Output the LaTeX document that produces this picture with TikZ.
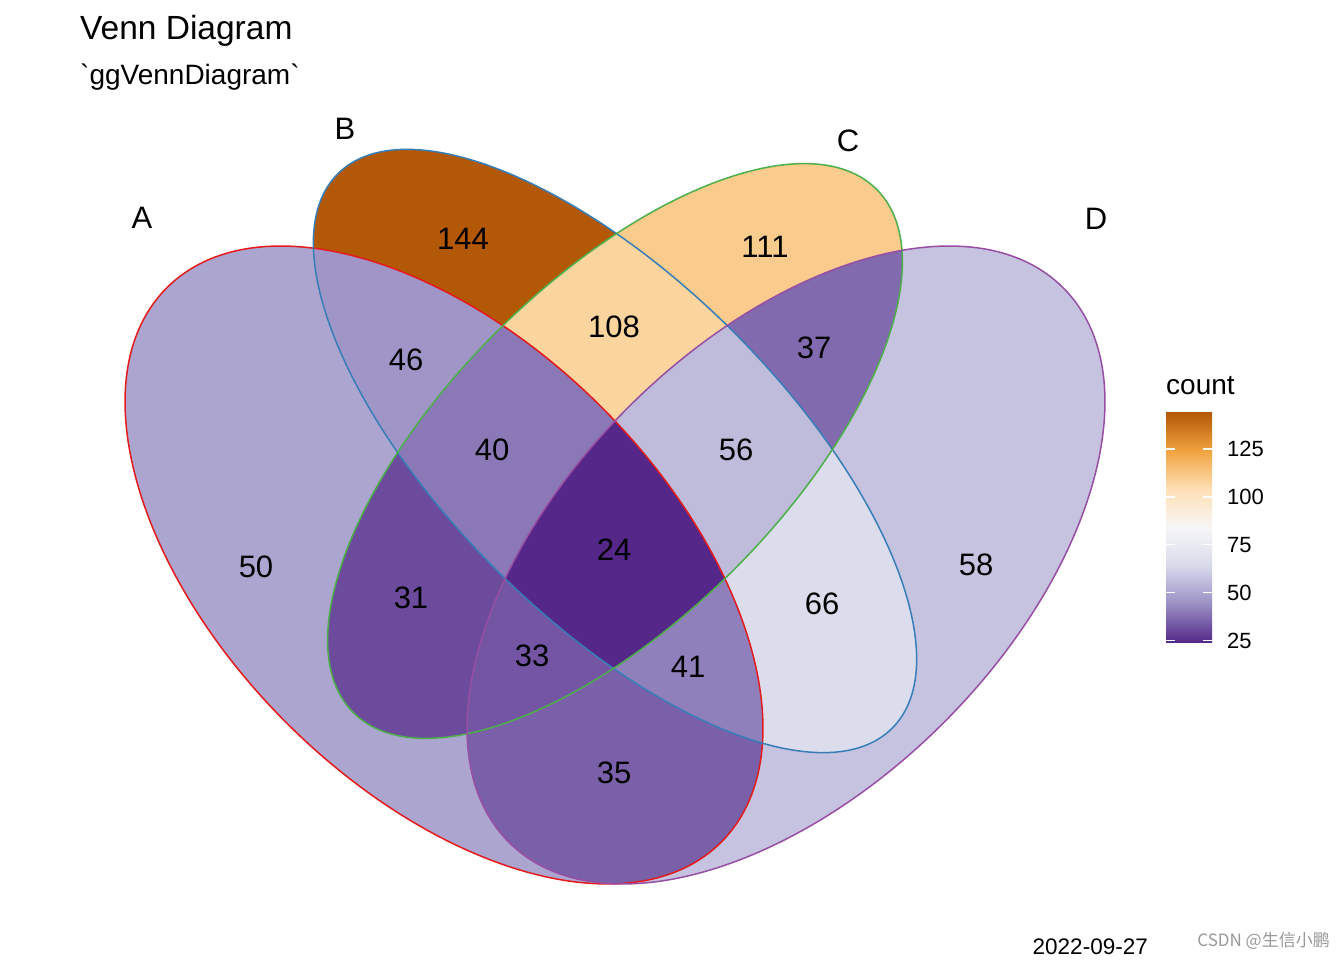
\documentclass[tikz,border=0pt]{standalone}
\usepackage{fontspec}
\setmainfont{Liberation Sans}
\newfontfamily\cjkfont{Noto Sans CJK SC}
\usetikzlibrary{positioning}

% region fills, PuOr scale from 24 to 144
\definecolor{c24}{RGB}{84,39,136}
\definecolor{c31}{RGB}{108,75,157}
\definecolor{c33}{RGB}{115,85,163}
\definecolor{c35}{RGB}{122,96,168}
\definecolor{c37}{RGB}{129,106,174}
\definecolor{c40}{RGB}{139,121,183}
\definecolor{c41}{RGB}{143,127,186}
\definecolor{c44}{RGB}{153,142,195}
\definecolor{c46}{RGB}{159,150,199}
\definecolor{c50}{RGB}{172,165,207}
\definecolor{c56}{RGB}{191,188,219}
\definecolor{c58}{RGB}{197,195,223}
\definecolor{c64}{RGB}{216,218,235}
\definecolor{c66}{RGB}{219,221,236}
\definecolor{c84}{RGB}{247,247,247}
\definecolor{c104}{RGB}{254,224,182}
\definecolor{c108}{RGB}{251,212,158}
\definecolor{c111}{RGB}{249,203,141}
\definecolor{c124}{RGB}{241,163,64}
\definecolor{c144}{RGB}{179,88,6}
% set edges
\definecolor{edgeA}{RGB}{228,26,28}
\definecolor{edgeB}{RGB}{55,126,184}
\definecolor{edgeC}{RGB}{77,175,74}
\definecolor{edgeD}{RGB}{152,78,163}

\newcommand{\ellA}{(444,395) ellipse [x radius=392, y radius=223, rotate=-45]}
\newcommand{\ellB}{(615,509) ellipse [x radius=392, y radius=168, rotate=-45]}
\newcommand{\ellC}{(615,509) ellipse [x radius=370, y radius=168, rotate=45]}
\newcommand{\ellD}{(786,395) ellipse [x radius=392, y radius=223, rotate=45]}
\newcommand{\wholeframe}{(0,0) rectangle (1344,960)}

\pgfdeclareverticalshading{puor}{100bp}{color(0bp)=(c24); color(25bp)=(c24);
  color(33.33bp)=(c44); color(41.67bp)=(c64); color(50bp)=(c84);
  color(58.33bp)=(c104); color(66.67bp)=(c124); color(75bp)=(c144); color(100bp)=(c144)}

\begin{document}
\begin{tikzpicture}[
    x=1pt, y=1pt,
    cnt/.style={inner sep=0pt, font=\fontsize{31}{36}\selectfont},
    setlab/.style={inner sep=0pt, font=\fontsize{31}{36}\selectfont},
    legtext/.style={inner sep=0pt, anchor=west, font=\fontsize{22}{26}\selectfont},
    tick/.style={white, line width=1.2pt},
    edge/.style={line width=1.5pt}
  ]
    \fill[white] \wholeframe;
    \useasboundingbox \wholeframe;

    % regions: in A / in B / in C / in D / fill
    \foreach \ia/\ib/\ic/\id/\fc in {1/0/0/0/c50, 0/1/0/0/c144, 0/0/1/0/c111, 0/0/0/1/c58,
        1/1/0/0/c46, 0/1/1/0/c108, 0/0/1/1/c37, 1/0/0/1/c35, 1/0/1/0/c31, 0/1/0/1/c66,
        1/1/1/0/c40, 0/1/1/1/c56, 1/0/1/1/c33, 1/1/0/1/c41, 1/1/1/1/c24} {
      \begin{scope}[even odd rule]
        \ifnum\ia=1 \clip \ellA; \else \clip \wholeframe \ellA; \fi
        \ifnum\ib=1 \clip \ellB; \else \clip \wholeframe \ellB; \fi
        \ifnum\ic=1 \clip \ellC; \else \clip \wholeframe \ellC; \fi
        \ifnum\id=1 \clip \ellD; \else \clip \wholeframe \ellD; \fi
        \fill[\fc] \wholeframe;
      \end{scope}
    }

    \draw[edge, edgeA] \ellA;
    \draw[edge, edgeB] \ellB;
    \draw[edge, edgeC] \ellC;
    \draw[edge, edgeD] \ellD;

    % counts
    \node[cnt] (n144) at (463,721) {144};
    \node[cnt] (n111) at (765,713) {111};
    \node[cnt] (n108) at (614,633) {108};
    \node[cnt] (n46) at (406,600) {46};
    \node[cnt] (n37) at (814,612) {37};
    \node[cnt] (n40) at (492,510) {40};
    \node[cnt] (n56) at (736,510) {56};
    \node[cnt] (n50) at (256,393) {50};
    \node[cnt] (n58) at (976,395) {58};
    \node[cnt] (n24) at (614,410) {24};
    \node[cnt] (n31) at (411,362) {31};
    \node[cnt] (n66) at (822,356) {66};
    \node[cnt] (n33) at (532,304) {33};
    \node[cnt] (n41) at (688,293) {41};
    \node[cnt] (n35) at (614,187) {35};

    % set names
    \node[setlab] (labA) at (142,742) {A};
    \node[setlab] (labB) at (345,831) {B};
    \node[setlab] (labC) at (848,819) {C};
    \node[setlab] (labD) at (1096,741) {D};

    % titles
    \node[inner sep=0pt, anchor=base west, font=\fontsize{33.5}{38}\selectfont] (title) at (80,920) {Venn Diagram};
    \node[inner sep=0pt, anchor=base west, font=\fontsize{28}{32}\selectfont] (subtitle) at (80,875) {\textasciigrave ggVennDiagram\textasciigrave};

    % colour bar
    \shade[shading=puor] (1166,317.3) rectangle (1212,547.3);
    \node[inner sep=0pt, anchor=base west, font=\fontsize{28}{32}\selectfont] (legtitle) at (1166,565) {count};
    \foreach \v/\yy in {25/319.2, 50/367.1, 75/415.1, 100/463, 125/510.9} {
      \draw[tick] (1166,\yy) -- (1175,\yy);
      \draw[tick] (1203,\yy) -- (1212,\yy);
      \node[legtext] (tick\v) at (1227,\yy) {\v};
    }

    \node[inner sep=0pt, anchor=base east, font=\fontsize{22.5}{26}\selectfont] (caption) at (1148,5) {2022-09-27};
    \node[inner sep=0pt, anchor=base east, text=black!40, font=\cjkfont\fontsize{17}{20}\selectfont] (mark) at (1330,13) {CSDN @生信小鹏};
  \end{tikzpicture}
\end{document}
